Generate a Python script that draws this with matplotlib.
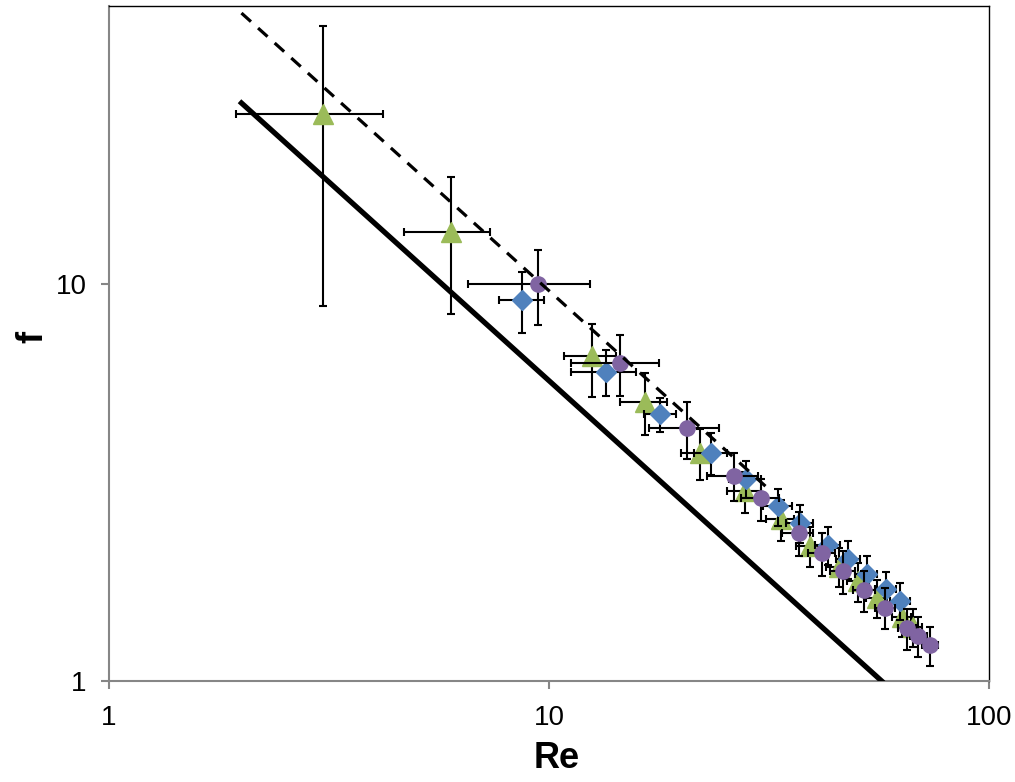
import numpy as np
import matplotlib.pyplot as plt

plt.rcParams['font.family'] = ['Liberation Sans', 'DejaVu Sans']

# green triangles
green_re = [3.07, 6.0, 12.5, 16.5, 22.0, 27.9, 33.6, 39.1, 45.5, 50.5, 55.6, 63.3, 67.3]
green_f = [26.7, 13.5, 6.56, 5.05, 3.75, 3.00, 2.55, 2.19, 1.94, 1.78, 1.62, 1.45, 1.37]
green_xerr = [1.13, 1.33, 1.7, 2.0, 2.0, 2.5, 2.5, 2.6, 2.8, 3.0, 3.0, 3.2, 3.3]
green_yerr = [17.9, 5.1, 1.37, 0.9, 0.55, 0.35, 0.3, 0.25, 0.22, 0.2, 0.18, 0.16, 0.15]

# blue diamonds
blue_re = [8.70, 13.5, 17.9, 23.4, 28.0, 33.2, 37.2, 43.1, 47.9, 52.7, 58.3, 62.8]
blue_f = [9.11, 6.01, 4.70, 3.75, 3.23, 2.75, 2.50, 2.20, 2.03, 1.86, 1.70, 1.59]
blue_xerr = [1.02, 2.3, 1.5, 2.0, 2.3, 2.5, 2.6, 2.8, 3.0, 3.0, 3.2, 3.3]
blue_yerr = [1.6, 0.8, 0.47, 0.45, 0.35, 0.3, 0.27, 0.24, 0.22, 0.2, 0.18, 0.17]

# purple circles
purple_re = [9.46, 14.5, 20.6, 26.3, 30.3, 36.9, 41.7, 46.5, 52.0, 58.0, 65.2, 69.1, 73.4]
purple_f = [10.0, 6.31, 4.33, 3.29, 2.88, 2.36, 2.10, 1.89, 1.69, 1.53, 1.36, 1.30, 1.23]
purple_xerr = [2.9, 3.3, 3.7, 3.5, 3.0, 3.0, 3.0, 3.0, 3.0, 3.0, 3.0, 3.0, 3.0]
purple_yerr = [2.15, 1.1, 0.7, 0.45, 0.35, 0.3, 0.26, 0.23, 0.2, 0.18, 0.16, 0.15, 0.14]

# reference lines (end points)
solid_re = [2.0, 57.0]
solid_f = [28.5, 1.0]
dashed_re = [2.0, 32.0]
dashed_f = [48.0, 3.0]

fig = plt.figure(figsize=(10.15, 7.82), dpi=100)
ax = fig.add_axes([0.1074, 0.1292, 0.867, 0.8631])

eb = dict(ecolor='black', elinewidth=1.5, capsize=3, capthick=1.5, linestyle='none')
ax.errorbar(green_re, green_f, xerr=green_xerr, yerr=green_yerr, marker='^',
            ms=14, mfc='#9BBB59', mec='#9BBB59', zorder=3, **eb)
ax.errorbar(blue_re, blue_f, xerr=blue_xerr, yerr=blue_yerr, marker='D',
            ms=10, mfc='#4F81BD', mec='#4F81BD', zorder=4, **eb)
ax.errorbar(purple_re, purple_f, xerr=purple_xerr, yerr=purple_yerr, marker='o',
            ms=11, mfc='#8064A2', mec='#8064A2', zorder=5, **eb)

ax.plot(solid_re, solid_f, color='black', lw=3.8, zorder=6)
ax.plot(dashed_re, dashed_f, color='black', lw=2.3, dashes=(4, 3), zorder=6)

ax.set_xscale('log')
ax.set_yscale('log')
ax.set_xlim(1, 100)
ax.set_ylim(1, 50)
ax.set_xticks([1, 10, 100])
ax.set_xticklabels(['1', '10', '100'])
ax.set_yticks([1, 10])
ax.set_yticklabels(['1', '10'])
ax.minorticks_off()
ax.tick_params(axis='both', direction='out', length=6, width=1.5, color='#868686',
               labelsize=20)
ax.tick_params(axis='x', pad=11)
ax.tick_params(axis='y', pad=10)

for s in ['left', 'bottom']:
    ax.spines[s].set_color('#868686')
    ax.spines[s].set_linewidth(1.5)
for s in ['top', 'right']:
    ax.spines[s].set_color('black')
    ax.spines[s].set_linewidth(1.0)

ax.set_xlabel('Re', fontsize=26, fontweight='bold')
ax.set_ylabel('f', fontsize=26, fontweight='bold')
ax.xaxis.set_label_coords(0.509, -0.089)
ax.yaxis.set_label_coords(-0.067, 0.51)

fig.savefig('out.png', dpi=100)
